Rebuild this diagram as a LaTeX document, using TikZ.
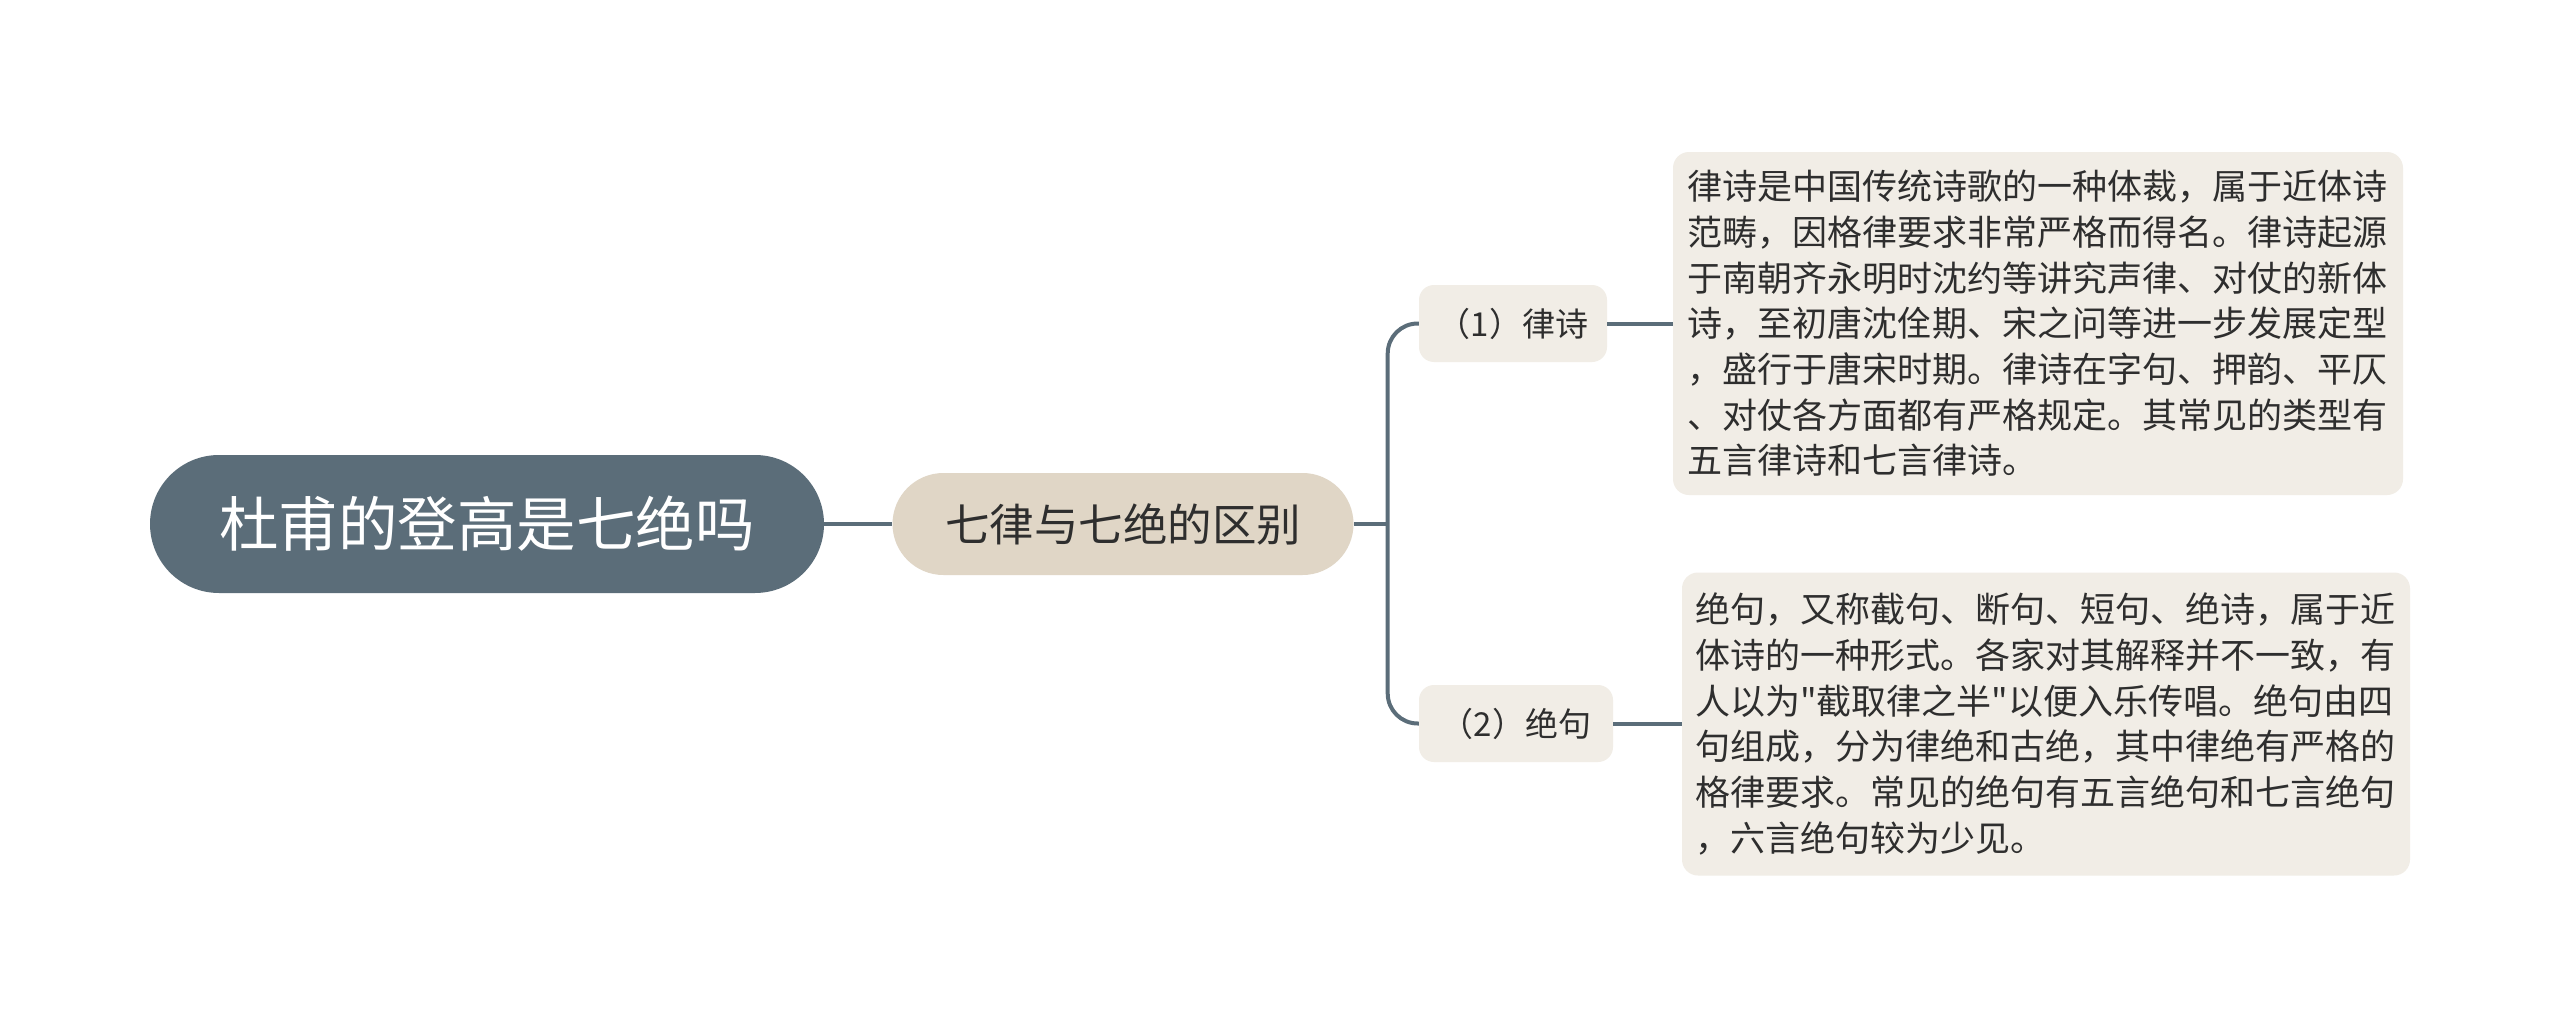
\documentclass[tikz,border=0pt]{standalone}
\usepackage{fontspec}
\setmainfont{Noto Sans CJK SC}[Ligatures=ResetAll]
\newfontfamily\qfont{Noto Sans CJK SC}[Ligatures=ResetAll]
\newcommand{\sq}{{\qfont\symbol{34}}}
\definecolor{slate}{HTML}{5B6D79}
\definecolor{midfill}{HTML}{E0D6C6}
\definecolor{leaffill}{HTML}{F1EDE6}
\definecolor{txt}{HTML}{2E2E2E}
\tikzset{
  conn/.style={draw=slate, line width=4pt},
  rootbox/.style={rectangle, rounded corners=69pt, fill=slate, text=white, minimum width=674pt, minimum height=138pt, inner sep=0pt, font=\fontsize{59.5}{62}\selectfont},
  midbox/.style={rectangle, rounded corners=51pt, fill=midfill, text=txt, minimum width=461pt, minimum height=102pt, inner sep=0pt, font=\fontsize{44.5}{48}\selectfont},
  leafbox/.style={rectangle, rounded corners=15pt, fill=leaffill, text=txt, minimum height=77pt, inner sep=0pt, font=\fontsize{33}{38}\selectfont},
  parabox/.style={rectangle, rounded corners=16pt, fill=leaffill, text=txt, inner sep=0pt, text width=702pt, align=left, font=\fontsize{35}{45.7}\selectfont}
}
\begin{document}
\begin{tikzpicture}[x=1pt,y=-1pt]
\useasboundingbox[fill=white] (0,0) rectangle (2560,1025);
\node[rootbox] (root) at (487,524) {杜甫的登高是七绝吗};
\node[midbox] (mid) at (1123,524) {七律与七绝的区别};
\node[leafbox, minimum width=188pt] (leaf1) at (1513,323.5) {（1）律诗};
\node[leafbox, minimum width=194pt] (leaf2) at (1516,723.5) {（2）绝句};
\node[parabox, minimum width=730pt, minimum height=343pt] (box1) at (2038,323.5) {律诗是中国传统诗歌的一种体裁，属于近体诗\\范畴，因格律要求非常严格而得名。律诗起源\\于南朝齐永明时沈约等讲究声律、对仗的新体\\诗，至初唐沈佺期、宋之问等进一步发展定型\\，盛行于唐宋时期。律诗在字句、押韵、平仄\\、对仗各方面都有严格规定。其常见的类型有\\五言律诗和七言律诗。};
\node[parabox, minimum width=728pt, minimum height=303pt] (box2) at (2046,724) {绝句，又称截句、断句、短句、绝诗，属于近\\体诗的一种形式。各家对其解释并不一致，有\\人以为\sq 截取律之半\sq 以便入乐传唱。绝句由四\\句组成，分为律绝和古绝，其中律绝有严格的\\格律要求。常见的绝句有五言绝句和七言绝句\\，六言绝句较为少见。};
\draw[conn] (root.east) -- (mid.west);
\draw[conn] (mid.east) -- ++(34,0) coordinate (bj);
\draw[conn, rounded corners=30pt] (leaf1.west) -| (bj) |- (leaf2.west);
\draw[conn] (leaf1.east) -- (leaf1.east -| box1.west);
\draw[conn] (leaf2.east) -- (leaf2.east -| box2.west);
\end{tikzpicture}
\end{document}
